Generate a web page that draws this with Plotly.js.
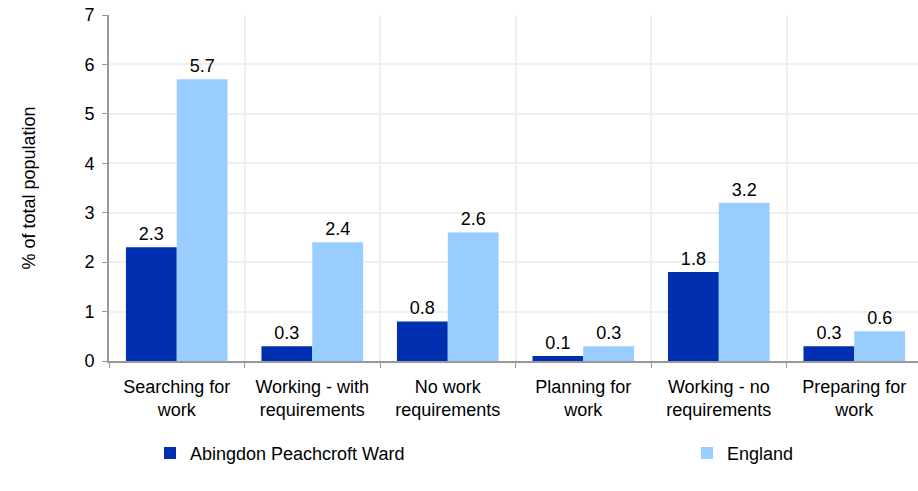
<!DOCTYPE html>
<html>
<head>
<meta charset="utf-8">
<script src="https://cdn.plot.ly/plotly-3.0.1.min.js"></script>
<style>html,body{margin:0;padding:0;background:#fff;}#chart{width:918px;height:491px;}</style>
</head>
<body>
<div id="chart"></div>
<script>
const categories = ["Searching for<br>work", "Working - with<br>requirements", "No work<br>requirements", "Planning for<br>work", "Working - no<br>requirements", "Preparing for<br>work"];
const wardName = "Abingdon Peachcroft Ward";
const wardValues = [2.3, 0.3, 0.8, 0.1, 1.8, 0.3];
const englandName = "England";
const englandValues = [5.7, 2.4, 2.6, 0.3, 3.2, 0.6];
const yTicks = [0, 1, 2, 3, 4, 5, 6, 7];

const FONT = "Liberation Sans, Arial, sans-serif";
const FS = 18;
const traces = [
  {type: "bar", name: wardName, x: categories, y: wardValues, legend: "legend",
   marker: {color: "#0030B0"}, text: wardValues.map(v => v.toFixed(1)),
   textposition: "outside", textfont: {family: FONT, size: FS, color: "#000"}, cliponaxis: false, hoverinfo: "none"},
  {type: "bar", name: englandName, x: categories, y: englandValues, legend: "legend2",
   marker: {color: "#99CCFF"}, text: englandValues.map(v => v.toFixed(1)),
   textposition: "outside", textfont: {family: FONT, size: FS, color: "#000"}, cliponaxis: false, hoverinfo: "none"}
];
const legendBase = {orientation: "h", xref: "container", yref: "container", y: 0.077, yanchor: "middle", xanchor: "left",
                    font: {family: FONT, size: FS, color: "#000"}, bgcolor: "rgba(0,0,0,0)"};
const layout = {
  width: 918, height: 491,
  margin: {l: 109, r: 0, t: 15, b: 130},
  paper_bgcolor: "#fff", plot_bgcolor: "#fff",
  font: {family: FONT, size: FS, color: "#000"},
  barmode: "group", bargap: 0.25, bargroupgap: 0,
  showlegend: true,
  legend: Object.assign({}, legendBase, {x: 150 / 918}),
  legend2: Object.assign({}, legendBase, {x: 687 / 918}),
  xaxis: {type: "category", range: [-0.5, 5.47], tickson: "boundaries", ticks: "outside", ticklen: 5, tickcolor: "#999",
          ticklabelstandoff: 8,
          showgrid: true, gridcolor: "#efefef", gridwidth: 2, showline: true, linecolor: "#999", linewidth: 2,
          tickfont: {family: FONT, size: FS, color: "#000"}, fixedrange: true},
  yaxis: {range: [0, 7], tickvals: yTicks, ticks: "outside", ticklen: 5, tickcolor: "#999",
          ticklabelstandoff: 4,
          showgrid: true, gridcolor: "#efefef", gridwidth: 2, showline: true, linecolor: "#999", linewidth: 2,
          zeroline: false, tickfont: {family: FONT, size: FS, color: "#000"},
          title: {text: "% of total population", font: {family: FONT, size: FS, color: "#000"}, standoff: 44}, fixedrange: true}
};
Plotly.newPlot("chart", traces, layout, {displayModeBar: false, staticPlot: true});
</script>
</body>
</html>
